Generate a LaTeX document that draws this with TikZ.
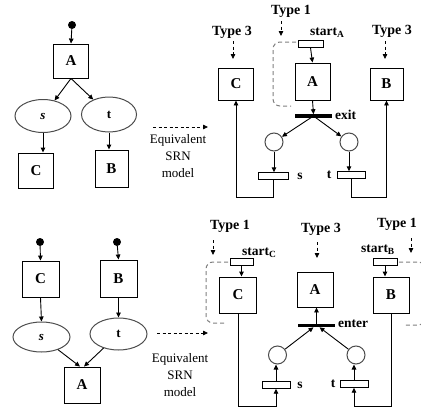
\documentclass[tikz,border=0pt]{standalone}
\usepackage{fontspec}
\setmainfont{Liberation Serif}
\usetikzlibrary{arrows.meta,shapes.geometric}
\begin{document}
\begin{tikzpicture}[x=1pt,y=-1pt,
  arr/.style={-{Triangle[length=5pt,width=4.5pt]},line width=0.9pt},
  darr/.style={-{Triangle[length=5pt,width=4.5pt]},line width=0.8pt,dash pattern=on 3pt off 2.5pt},
  gdash/.style={gray,line width=1pt,dash pattern=on 4pt off 3pt,rounded corners=7pt},
  box/.style={draw,line width=0.9pt,minimum width=35pt,minimum height=35pt,inner sep=0pt,font=\fontsize{15}{17}\selectfont\bfseries},
  oval/.style={ellipse,draw=black!70,line width=1pt,minimum width=56pt,minimum height=33pt,inner sep=0pt,font=\fontsize{13}{15}\selectfont\bfseries},
  tok/.style={circle,fill=black,minimum size=8pt,inner sep=0pt},
  place/.style={circle,draw=black!70,line width=1pt,minimum size=18pt,inner sep=0pt},
  trans/.style={draw,line width=0.9pt,minimum width=26pt,minimum height=6.5pt,inner sep=0pt},
  bar/.style={fill=black,minimum width=37pt,minimum height=3.2pt,inner sep=0pt},
  typ/.style={font=\fontsize{14}{16}\selectfont\bfseries,inner sep=0pt},
  lbl/.style={font=\fontsize{13.5}{15}\selectfont\bfseries,inner sep=0pt},
  eq/.style={font=\fontsize{13}{17}\selectfont,align=center,inner sep=0pt}]
\useasboundingbox (0,0) rectangle (421,410);
% ================= TOP LEFT =================
\node[tok] (tk1) at (72,25) {};
\node[box,minimum height=34pt] (A1) at (71,61) {A};
\node[oval] (s1) at (43,116) {\itshape s};
\node[oval,minimum width=55pt,minimum height=35pt] (t1) at (109,114.5) {t};
\node[box] (C1) at (36,170.5) {C};
\node[box,minimum width=33pt,minimum height=37pt] (B1) at (111.5,168.5) {B};
\draw[arr] (tk1) -- (A1.north);
\draw[arr] (A1.south) -- (s1);
\draw[arr] (A1.south) -- (t1);
\draw[arr] (s1.south) -- (s1.south |- C1.north);
\draw[arr] (t1.south) -- (t1.south |- B1.north);
\coordinate (e1a) at (153,127);
\coordinate (e1b) at (208,127);
\draw[darr] (e1a) -- (e1b);
\node[eq] (eq1) at (178,156) {Equivalent\\SRN\\model};
% ================= TOP RIGHT =================
\node[typ] (ty1) at (291,11) {Type 1};
\node[typ] (ty3a) at (232,32) {Type 3};
\node[typ] (ty3b) at (392,31) {Type 3};
\coordinate (d1a) at (281,21); \coordinate (d1b) at (281,36);
\coordinate (d2a) at (233,41); \coordinate (d2b) at (233,59);
\coordinate (d3a) at (385,41); \coordinate (d3b) at (385,59);
\draw[darr] (d1a) -- (d1b);
\draw[darr] (d2a) -- (d2b);
\draw[darr] (d3a) -- (d3b);
\node[box,minimum height=32pt] (C2) at (236,84) {C};
\node[box,minimum height=37pt] (A2) at (312.5,81.5) {A};
\node[box,minimum width=33pt,minimum height=32pt] (B2) at (386.5,84) {B};
\node[trans,minimum width=25pt] (stA) at (310.5,44) {};
\node[lbl,anchor=west] (stAl) at (310,33) {start\textsubscript{A}};
\draw[gdash] (296,42) -- (273,42) -- (273,106) -- (291,106);
\draw[arr] (stA.south) -- (A2.north);
\node[bar] (exit) at (313.5,116) {};
\node[lbl,anchor=west] (exitl) at (335,115) {exit};
\draw[arr] (A2.south) -- (exit.north);
\node[place] (p1) at (274,142) {};
\node[place] (p2) at (349,142) {};
\draw[arr] (exit.center) -- (p1);
\draw[arr] (exit.center) -- (p2);
\node[trans,minimum width=30pt] (s2) at (273,176) {};
\node[trans,minimum width=28pt] (t2) at (351,175) {};
\draw[arr] (p1.south) -- (p1.south |- s2.north);
\draw[arr] (p2.south) -- (p2.south |- t2.north);
\node[lbl] (s2l) at (300,176) {s};
\node[lbl] (t2l) at (329,175) {t};
\draw[arr] (s2.south) -- ++(0,18) -| (C2.south);
\draw[arr] (t2.south) -- ++(0,19) -| (B2.south);
% ================= BOTTOM LEFT =================
\node[tok] (tk2) at (40,242) {};
\node[tok] (tk3) at (117,242) {};
\node[box,minimum width=37pt,minimum height=36pt] (C3) at (40.5,279) {C};
\node[box,minimum width=37pt,minimum height=37pt] (B3) at (118.5,278.5) {B};
\node[oval,minimum width=57pt,minimum height=30pt] (s3) at (41.5,337) {\itshape s};
\node[oval,minimum width=57pt,minimum height=32pt] (t3) at (118.5,334) {t};
\node[box,minimum width=36pt,minimum height=36pt] (A3) at (82,385) {A};
\draw[arr] (tk2) -- (C3.north);
\draw[arr] (tk3) -- (B3.north);
\draw[arr] (C3.south) -- (s3.north);
\draw[arr] (B3.south) -- (t3.north);
\draw[arr] (s3) -- ([xshift=-2pt]A3.north);
\draw[arr] (t3) -- ([xshift=2pt]A3.north);
\coordinate (e2a) at (157,333);
\coordinate (e2b) at (208,333);
\draw[darr] (e2a) -- (e2b);
\node[eq] (eq2) at (180,375) {Equivalent\\SRN\\model};
% ================= BOTTOM RIGHT =================
\node[typ] (ty1b) at (230,226) {Type 1};
\node[typ] (ty3c) at (321,229) {Type 3};
\node[typ] (ty1c) at (397,224) {Type 1};
\coordinate (d4a) at (213,240); \coordinate (d4b) at (213,255);
\coordinate (d5a) at (317,242); \coordinate (d5b) at (317,258);
\coordinate (d6a) at (411,238); \coordinate (d6b) at (411,253);
\draw[darr] (d4a) -- (d4b);
\draw[darr] (d5a) -- (d5b);
\draw[darr] (d6a) -- (d6b);
\node[trans,minimum width=23pt] (stC) at (241.5,262) {};
\node[lbl,anchor=west] (stCl) at (242,253) {start\textsubscript{C}};
\node[box,minimum width=37pt,minimum height=36pt] (C4) at (238,295) {C};
\draw[gdash] (228,262) -- (206,262) -- (206,323) -- (225,323);
\draw[arr] (stC.south) -- (stC.south |- C4.north);
\node[trans,minimum width=24pt] (stB) at (385,262) {};
\node[lbl,anchor=east] (stBl) at (395,250) {start\textsubscript{B}};
\node[box,minimum width=36pt,minimum height=36pt] (B4) at (391,295) {B};
\draw[gdash] (399,262) -- (425,262) -- (425,325) -- (405,325);
\draw[arr] (stB.south) -- (stB.south |- B4.north);
\node[box,minimum width=36pt,minimum height=35pt] (A4) at (315,289.5) {A};
\node[bar] (enter) at (316.5,325.5) {};
\node[lbl,anchor=west] (enterl) at (338,324) {enter};
\draw[arr] (enter.north) -- (enter.north |- A4.south);
\node[place] (q1) at (277.5,355) {};
\node[place] (q2) at (356,355) {};
\draw[arr] (q1) -- ([xshift=-3pt]enter.south);
\draw[arr] (q2) -- ([xshift=3pt]enter.south);
\node[trans,minimum width=28pt] (s4) at (276,385) {};
\node[trans,minimum width=28pt] (t4) at (354,384) {};
\draw[arr] (s4.north) -- (s4.north |- q1.south);
\draw[arr] (t4.north) -- (t4.north |- q2.south);
\node[lbl] (s4l) at (300,385) {s};
\node[lbl] (t4l) at (333,384) {t};
\draw[arr] (C4.south) -- ++(0,93) -| (s4.south);
\draw[arr] (B4.south) -- ++(0,93) -| (t4.south);
\end{tikzpicture}
\end{document}
